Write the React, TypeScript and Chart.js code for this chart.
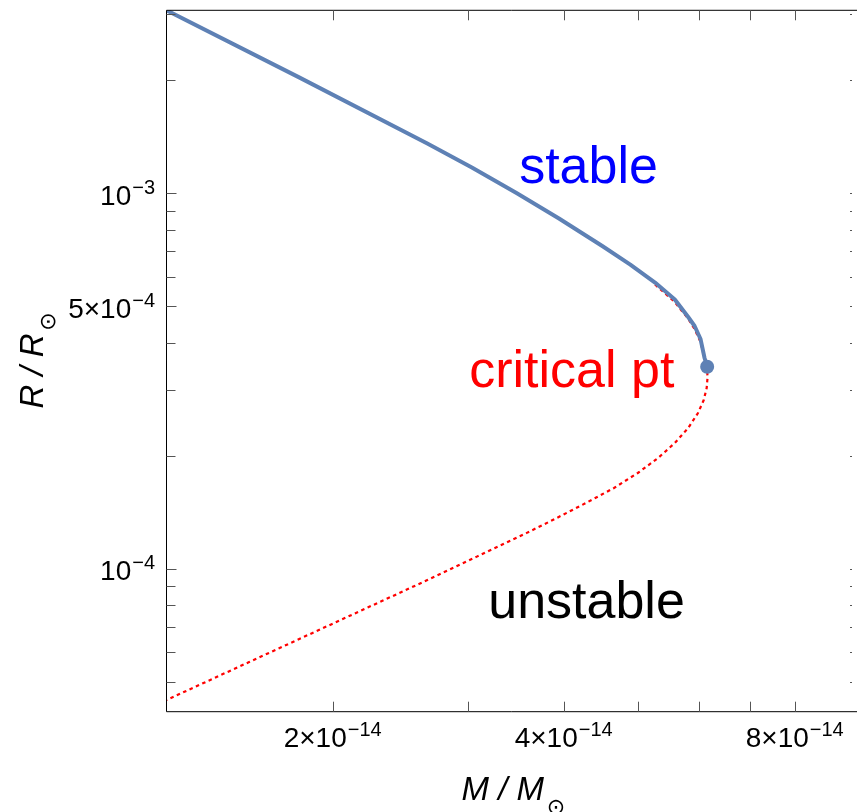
import React, { useEffect, useRef } from "react";
import { Chart, registerables } from "chart.js";
Chart.register(...registerables);

// ---- data ----
const stableMass = [1.215e-14, 1.806e-14, 2.657e-14, 3.037e-14, 3.472e-14, 3.944e-14, 4.491e-14, 4.885e-14, 5.261e-14, 5.583e-14, 5.808e-14, 5.924e-14, 6.031e-14, 6.104e-14, 6.152e-14];
const stableRadius = [3.073e-3, 2.04e-3, 1.358e-3, 1.172e-3, 1.002e-3, 8.569e-4, 7.238e-4, 6.46e-4, 5.785e-4, 5.214e-4, 4.691e-4, 4.431e-4, 4.091e-4, 3.641e-4, 3.451e-4];

const unstableMass = [5.261e-14, 5.583e-14, 5.808e-14, 5.924e-14, 6.031e-14, 6.104e-14, 6.152e-14, 6.158e-14, 6.143e-14, 6.089e-14, 5.985e-14, 5.811e-14, 5.583e-14, 5.31e-14, 4.996e-14, 4.652e-14, 4.286e-14, 3.921e-14, 3.576e-14, 3.083e-14, 2.657e-14, 1.994e-14, 1.557e-14, 1.215e-14];
const unstableRadius = [5.716e-4, 5.134e-4, 4.64e-4, 4.35e-4, 4.017e-4, 3.63e-4, 3.451e-4, 3.221e-4, 3.029e-4, 2.814e-4, 2.599e-4, 2.37e-4, 2.162e-4, 1.972e-4, 1.799e-4, 1.641e-4, 1.5e-4, 1.366e-4, 1.244e-4, 1.077e-4, 9.325e-5, 7.118e-5, 5.642e-5, 4.469e-5];

const criticalMass = [6.152e-14];
const criticalRadius = [3.451e-4];

const xRange = [1.215e-14, 9.5e-14];
const yRange = [4.16e-5, 3.073e-3];

const xTickValues = [2e-14, 3e-14, 4e-14, 5e-14, 6e-14, 7e-14, 8e-14];
const xLabelValues = [2e-14, 4e-14, 8e-14];
const xLabelMantissas = ["2", "4", "8"];
const xLabelExponents = ["14", "14", "14"];

const yTickValues = [5e-5, 6e-5, 7e-5, 8e-5, 9e-5, 1e-4, 2e-4, 3e-4, 4e-4, 5e-4, 6e-4, 7e-4, 8e-4, 9e-4, 1e-3, 2e-3, 3e-3];
const yMajorValues = [1e-4, 5e-4, 1e-3];
const yLabelValues = [1e-4, 5e-4, 1e-3];
const yLabelMantissas = ["", "5", ""];
const yLabelExponents = ["4", "4", "3"];

const regionLabels = ["stable", "critical pt", "unstable"];
const regionLabelMass = [4.31e-14, 4.099e-14, 4.284e-14];
const regionLabelRadius = [1.065e-3, 3.054e-4, 7.377e-5];
const regionLabelColors = ["#0000ff", "#ff0000", "#000000"];

const FONT = '"Liberation Sans", Arial, Helvetica, sans-serif';
const BASE_FONT = `28px ${FONT}`;
const SUP_FONT = `20px ${FONT}`;

function drawSci(ctx: CanvasRenderingContext2D, mant: string, exp: string, x: number, y: number, align: string) {
  const base = mant ? mant + "\u00d710" : "10";
  const sup = "\u2212" + exp;
  ctx.font = BASE_FONT;
  const wb = ctx.measureText(base).width;
  ctx.font = SUP_FONT;
  const ws = ctx.measureText(sup).width;
  const gap = 1;
  const total = wb + gap + ws;
  const sx = align === "right" ? x - total : x - total / 2;
  ctx.textAlign = "left";
  ctx.textBaseline = "alphabetic";
  ctx.font = BASE_FONT;
  ctx.fillText(base, sx, y);
  ctx.font = SUP_FONT;
  ctx.fillText(sup, sx + wb + gap, y - 11);
}

const overlayPlugin = {
  id: "overlay",
  afterDatasetsDraw(chart: any) {
    const ctx: CanvasRenderingContext2D = chart.ctx;
    const { left, right, top, bottom } = chart.chartArea;
    const xs = chart.scales.x;
    const ys = chart.scales.y;
    ctx.save();

    // frame
    ctx.strokeStyle = "#000";
    ctx.lineWidth = 1;
    ctx.beginPath();
    ctx.moveTo(right + 5, top);
    ctx.lineTo(left, top);
    ctx.lineTo(left, bottom);
    ctx.lineTo(right + 5, bottom);
    ctx.stroke();

    // ticks
    ctx.strokeStyle = "#555";
    ctx.beginPath();
    xTickValues.forEach((v) => {
      const px = Math.round(xs.getPixelForValue(v)) + 0.5;
      ctx.moveTo(px, bottom);
      ctx.lineTo(px, bottom - 10);
      ctx.moveTo(px, top);
      ctx.lineTo(px, top + 10);
    });
    yTickValues.forEach((v) => {
      const py = Math.round(ys.getPixelForValue(v)) + 0.5;
      const len = yMajorValues.includes(v) ? 10 : 9;
      ctx.moveTo(left, py);
      ctx.lineTo(left + len, py);
      ctx.moveTo(right, py);
      ctx.lineTo(right - 2, py);
    });
    ctx.stroke();

    // tick labels
    ctx.fillStyle = "#000";
    xLabelValues.forEach((v, i) => {
      drawSci(ctx, xLabelMantissas[i], xLabelExponents[i], xs.getPixelForValue(v), bottom + 35, "center");
    });
    yLabelValues.forEach((v, i) => {
      drawSci(ctx, yLabelMantissas[i], yLabelExponents[i], left - 11.5, ys.getPixelForValue(v) + 11.7, "right");
    });

    // region labels
    ctx.font = `52px ${FONT}`;
    ctx.textAlign = "center";
    ctx.textBaseline = "alphabetic";
    regionLabels.forEach((t, i) => {
      ctx.fillStyle = regionLabelColors[i];
      ctx.fillText(t, xs.getPixelForValue(regionLabelMass[i]), ys.getPixelForValue(regionLabelRadius[i]));
    });

    // axis titles
    ctx.fillStyle = "#000";
    const titleFont = `italic 33px ${FONT}`;
    const sunFont = `22px "DejaVu Sans", sans-serif`;
    // x title
    ctx.font = titleFont;
    ctx.textAlign = "left";
    ctx.textBaseline = "alphabetic";
    const xt = "M / M";
    const xw = ctx.measureText(xt).width;
    const xStart = (left + right + 7) / 2 - (xw + 20) / 2;
    ctx.fillText(xt, xStart, bottom + 88);
    ctx.font = sunFont;
    ctx.textAlign = "center";
    ctx.textBaseline = "middle";
    ctx.fillText("\u2299", xStart + xw + 12, bottom + 97);
    // y title
    ctx.save();
    ctx.font = titleFont;
    const yt = "R / R";
    const yw = ctx.measureText(yt).width;
    const cy = (top + bottom) / 2;
    ctx.translate(43, cy + (yw + 20) / 2);
    ctx.rotate(-Math.PI / 2);
    ctx.textAlign = "left";
    ctx.textBaseline = "alphabetic";
    ctx.fillText(yt, 0, 0);
    ctx.font = sunFont;
    ctx.textAlign = "center";
    ctx.textBaseline = "middle";
    ctx.fillText("\u2299", yw + 12, 6);
    ctx.restore();

    ctx.restore();
  },
};

export default function App() {
  const canvasRef = useRef<HTMLCanvasElement | null>(null);
  useEffect(() => {
    const canvas = canvasRef.current;
    if (!canvas) return;
    const chart = new Chart(canvas, {
      type: "scatter",
      data: {
        datasets: [
          {
            label: "critical",
            data: criticalMass.map((m, i) => ({ x: m, y: criticalRadius[i] })),
            pointRadius: 7,
            pointHoverRadius: 7,
            backgroundColor: "#5e81b5",
            borderWidth: 0,
            showLine: false,
            order: 0,
          },
          {
            label: "stable",
            data: stableMass.map((m, i) => ({ x: m, y: stableRadius[i] })),
            showLine: true,
            borderColor: "#5e81b5",
            borderWidth: 4,
            borderJoinStyle: "round",
            pointRadius: 0,
            tension: 0,
            order: 1,
          },
          {
            label: "unstable",
            data: unstableMass.map((m, i) => ({ x: m, y: unstableRadius[i] })),
            showLine: true,
            borderColor: "#ff0000",
            borderWidth: 2.2,
            borderDash: [3.5, 3.5],
            pointRadius: 0,
            tension: 0,
            order: 2,
          },
        ],
      },
      options: {
        responsive: false,
        animation: false,
        devicePixelRatio: 1,
        layout: { padding: { left: 166.5, right: 0, top: 10.3, bottom: 100.3 } },
        plugins: { legend: { display: false }, tooltip: { enabled: false } },
        events: [],
        scales: {
          x: { type: "logarithmic", min: xRange[0], max: xRange[1], display: false },
          y: { type: "logarithmic", min: yRange[0], max: yRange[1], display: false },
        },
      },
      plugins: [overlayPlugin],
    });
    return () => chart.destroy();
  }, []);
  return (
    <div style={{ position: "fixed", left: 0, top: 0, width: 859, height: 812, background: "#fff" }}>
      <canvas ref={canvasRef} width={859} height={812} style={{ display: "block" }} />
    </div>
  );
}
